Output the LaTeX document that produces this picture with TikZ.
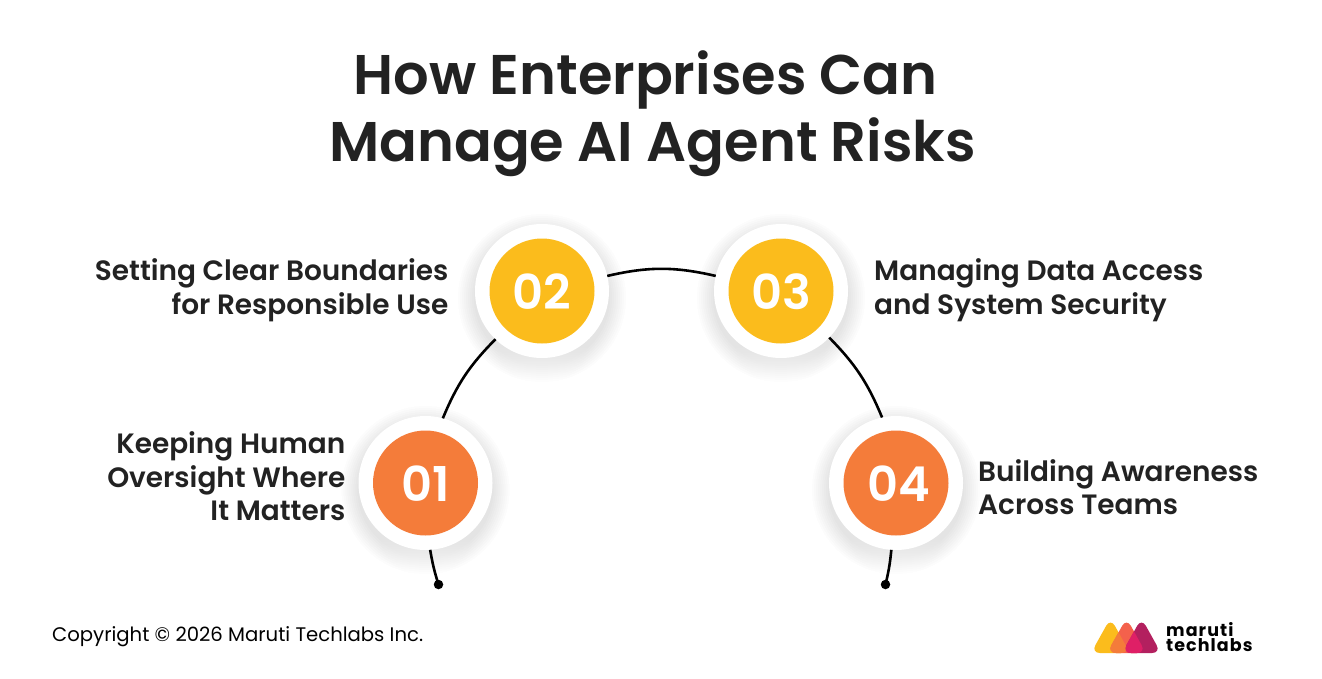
\documentclass[tikz,border=0pt]{standalone}
\usepackage{fontspec}
\setmainfont{Poppins}
\newfontfamily\popsemi{Poppins SemiBold}
\newfontfamily\popbold[LetterSpace=6]{Poppins Bold}
\usetikzlibrary{calc}
\definecolor{ink}{HTML}{222222}
\definecolor{mtyellow}{HTML}{FBBC1C}
\definecolor{mtorange}{HTML}{F47C3A}
\definecolor{mtred}{HTML}{F4614C}
\definecolor{mtpink}{HTML}{DF1F66}
\definecolor{mtplum}{HTML}{B3205F}
\definecolor{shade}{HTML}{7F93B2}
\tikzset{
  halo/.style={circle,fill=white,minimum size=134pt,inner sep=0pt,outer sep=0pt},
  badge/.style={circle,minimum size=105pt,inner sep=0pt,text=white,font=\fontsize{48}{48}\popsemi},
  badgetext/.style={anchor=base,inner sep=0pt,text=white,font=\fontsize{48}{48}\popsemi},
  titletext/.style={anchor=base,font=\fontsize{55.9}{55.9}\popsemi,text=ink,inner sep=0pt},
  lefttext/.style={anchor=base east,font=\fontsize{27.95}{28}\popsemi,text=ink,inner sep=0pt},
  righttext/.style={anchor=base west,font=\fontsize{27.95}{28}\popsemi,text=ink,inner sep=0pt},
  link/.style={line width=2.6pt,black},
  enddot/.style={circle,fill=black,minimum size=9.5pt,inner sep=0pt},
  logotext/.style={anchor=base west,font=\fontsize{17.5}{17.5}\popbold,text=black,inner sep=0pt}
}
\newcommand{\softshadow}[2]{%
  \foreach \rr in {68,70,...,84}{\fill[shade,opacity=0.008] (#1,#2+7) circle (\rr pt);}%
}
\newcommand{\droppath}[1]{(#1+15.5,618) [rounded corners=9pt] -- (#1+35,653) -- (#1-4,653) -- cycle}
\begin{document}
\begin{tikzpicture}[x=1pt,y=-1pt]
\useasboundingbox (0,0) rectangle (1322,678);
\fill[white] (0,0) rectangle (1322,678);
\node[titletext] (t1) at (645.5,94.5) {How Enterprises Can};
\node[titletext] (t2) at (652.5,161.5) {Manage AI Agent Risks};
\softshadow{425.5}{483}
\softshadow{542}{291}
\softshadow{781}{291}
\softshadow{896}{483}
\node[halo] (h1) at (425.5,483) {};
\node[halo] (h2) at (542,291) {};
\node[halo] (h3) at (781,291) {};
\node[halo] (h4) at (896,483) {};
\node[badge,fill=mtorange] (b1) at (h1) {};
\node[badge,fill=mtyellow] (b2) at (h2) {};
\node[badge,fill=mtyellow] (b3) at (h3) {};
\node[badge,fill=mtorange] (b4) at (h4) {};
\node[badgetext] (n1) at (425.5,501) {01};
\node[badgetext] (n2) at (542,309) {02};
\node[badgetext] (n3) at (781,309) {03};
\node[badgetext] (n4) at (898.5,501) {04};
\node[enddot] (d1) at (438.5,584.5) {};
\node[enddot] (d4) at (885.5,584.5) {};
\draw[link] (d1.center) to[bend left=4] (h1.274);
\draw[link] (h1.75) to[bend left=11] (h2.226);
\draw[link] (h2.13) to[bend left=13] (h3.167);
\draw[link] (h3.316) to[bend left=11] (h4.102);
\draw[link] (h4.266) to[bend left=4] (d4.center);
\node[lefttext] (l2a) at (448.5,280) {Setting Clear Boundaries};
\node[lefttext] (l2b) at (448.5,314) {for Responsible Use};
\node[lefttext] (l1a) at (345.5,453) {Keeping Human};
\node[lefttext] (l1b) at (345.5,487) {Oversight Where};
\node[lefttext] (l1c) at (345.5,520) {It Matters};
\node[righttext] (l3a) at (874,280) {Managing Data Access};
\node[righttext] (l3b) at (874,314) {and System Security};
\node[righttext] (l4a) at (978,481) {Building Awareness};
\node[righttext] (l4b) at (978,514) {Across Teams};
\node[anchor=base west,inner sep=0pt,font=\fontsize{19.65}{20}\selectfont,text=black] (c) at (52,641) {Copyright © 2026 Maruti Techlabs Inc.};
% logo
\fill[mtyellow] \droppath{1095};
\fill[mtred] \droppath{1111};
\fill[mtplum] \droppath{1126};
\begin{scope}
  \clip \droppath{1095};
  \fill[mtorange] \droppath{1111};
\end{scope}
\begin{scope}
  \clip \droppath{1126};
  \fill[mtpink] \droppath{1111};
\end{scope}
\node[logotext] (m1) at (1166,636) {maruti};
\node[logotext] (m2) at (1166,651) {techlabs};
\end{tikzpicture}
\end{document}
